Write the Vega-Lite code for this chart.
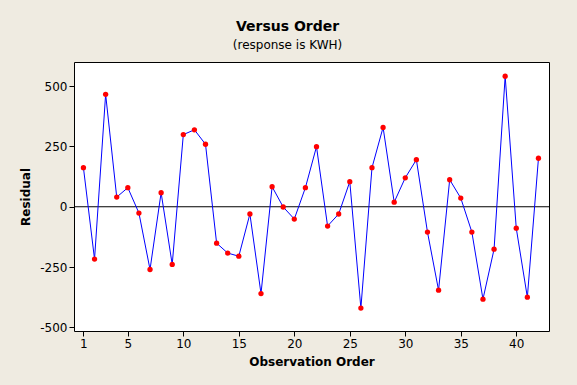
{
  "$schema": "https://vega.github.io/schema/vega-lite/v6.json",
  "autosize": {"type": "none"},
  "width": 475,
  "height": 269,
  "padding": {"left": 74, "top": 62, "right": 28, "bottom": 54},
  "background": "#EFEBE1",
  "title": {
    "text": "Versus Order",
    "subtitle": "(response is KWH)",
    "font": "DejaVu Sans",
    "fontSize": 14,
    "fontWeight": "bold",
    "color": "black",
    "subtitleFont": "DejaVu Sans",
    "subtitleFontSize": 12,
    "subtitleColor": "black",
    "subtitlePadding": 6,
    "anchor": "middle",
    "dx": -24,
    "offset": 11
  },
  "config": {
    "view": {"stroke": "black", "strokeWidth": 1, "fill": "white"},
    "axis": {
      "labelFont": "DejaVu Sans",
      "labelFontSize": 12,
      "labelColor": "black",
      "titleFont": "DejaVu Sans",
      "titleFontSize": 12,
      "titleFontWeight": "bold",
      "titleColor": "black",
      "tickColor": "black",
      "tickSize": 5,
      "domain": false,
      "grid": false
    }
  },
  "data": {
    "values": [
      {"order": 1, "resid": 162},
      {"order": 2, "resid": -217},
      {"order": 3, "resid": 466},
      {"order": 4, "resid": 40},
      {"order": 5, "resid": 79},
      {"order": 6, "resid": -26},
      {"order": 7, "resid": -260},
      {"order": 8, "resid": 58},
      {"order": 9, "resid": -239},
      {"order": 10, "resid": 299},
      {"order": 11, "resid": 319},
      {"order": 12, "resid": 259},
      {"order": 13, "resid": -151},
      {"order": 14, "resid": -192},
      {"order": 15, "resid": -205},
      {"order": 16, "resid": -30},
      {"order": 17, "resid": -360},
      {"order": 18, "resid": 83},
      {"order": 19, "resid": -1},
      {"order": 20, "resid": -51},
      {"order": 21, "resid": 79},
      {"order": 22, "resid": 249},
      {"order": 23, "resid": -80},
      {"order": 24, "resid": -30},
      {"order": 25, "resid": 104},
      {"order": 26, "resid": -420},
      {"order": 27, "resid": 162},
      {"order": 28, "resid": 329},
      {"order": 29, "resid": 19},
      {"order": 30, "resid": 120},
      {"order": 31, "resid": 195},
      {"order": 32, "resid": -105},
      {"order": 33, "resid": -346},
      {"order": 34, "resid": 112},
      {"order": 35, "resid": 36},
      {"order": 36, "resid": -105},
      {"order": 37, "resid": -383},
      {"order": 38, "resid": -176},
      {"order": 39, "resid": 541},
      {"order": 40, "resid": -89},
      {"order": 41, "resid": -375},
      {"order": 42, "resid": 201}
    ]
  },
  "encoding": {
    "x": {
      "field": "order",
      "type": "quantitative",
      "scale": {"domain": [0.15, 42.95], "nice": false, "zero": false},
      "axis": {"values": [1, 5, 10, 15, 20, 25, 30, 35, 40], "title": "Observation Order", "labelPadding": 2, "titlePadding": 7}
    },
    "y": {
      "field": "resid",
      "type": "quantitative",
      "scale": {"domain": [-515, 600], "nice": false, "zero": false},
      "axis": {
        "values": [-500, -250, 0, 250, 500],
        "title": "Residual",
        "labelPadding": 2,
        "titlePadding": 7,
        "labelExpr": "datum.value < 0 ? '-' + abs(datum.value) : '' + datum.value"
      }
    }
  },
  "layer": [
    {
      "mark": {"type": "rule", "color": "black", "strokeWidth": 1},
      "data": {"values": [{"zero": 0}]},
      "encoding": {"y": {"field": "zero", "type": "quantitative"}, "x": null}
    },
    {
      "mark": {"type": "line", "color": "#0000FF", "strokeWidth": 1}
    },
    {
      "mark": {"type": "circle", "color": "#FF0000", "opacity": 1, "size": 28}
    }
  ]
}
